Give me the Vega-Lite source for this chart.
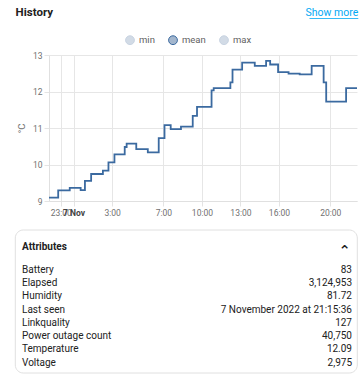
{
  "$schema": "https://vega.github.io/schema/vega-lite/v6.json",
  "padding": {"left": 14, "top": 0, "right": 0, "bottom": 0},
  "background": "white",
  "spacing": 12,
  "resolve": {"legend": {"color": "independent"}},
  "config": {"font": "Roboto", "view": {"stroke": null}},
  "datasets": {
    "temp": [
      {"time": "2022-11-06T22:05", "value": 9.09, "series": "mean"},
      {"time": "2022-11-06T22:48", "value": 9.29, "series": "mean"},
      {"time": "2022-11-06T23:42", "value": 9.36, "series": "mean"},
      {"time": "2022-11-07T00:33", "value": 9.30, "series": "mean"},
      {"time": "2022-11-07T00:53", "value": 9.55, "series": "mean"},
      {"time": "2022-11-07T01:22", "value": 9.74, "series": "mean"},
      {"time": "2022-11-07T02:17", "value": 9.83, "series": "mean"},
      {"time": "2022-11-07T02:43", "value": 10.06, "series": "mean"},
      {"time": "2022-11-07T03:11", "value": 10.28, "series": "mean"},
      {"time": "2022-11-07T03:59", "value": 10.48, "series": "mean"},
      {"time": "2022-11-07T04:08", "value": 10.57, "series": "mean"},
      {"time": "2022-11-07T04:53", "value": 10.42, "series": "mean"},
      {"time": "2022-11-07T05:47", "value": 10.33, "series": "mean"},
      {"time": "2022-11-07T06:38", "value": 10.72, "series": "mean"},
      {"time": "2022-11-07T07:05", "value": 11.08, "series": "mean"},
      {"time": "2022-11-07T07:34", "value": 10.97, "series": "mean"},
      {"time": "2022-11-07T08:22", "value": 11.04, "series": "mean"},
      {"time": "2022-11-07T09:17", "value": 11.33, "series": "mean"},
      {"time": "2022-11-07T09:37", "value": 11.58, "series": "mean"},
      {"time": "2022-11-07T10:45", "value": 12.03, "series": "mean"},
      {"time": "2022-11-07T10:55", "value": 12.09, "series": "mean"},
      {"time": "2022-11-07T12:13", "value": 12.25, "series": "mean"},
      {"time": "2022-11-07T12:23", "value": 12.60, "series": "mean"},
      {"time": "2022-11-07T13:08", "value": 12.79, "series": "mean"},
      {"time": "2022-11-07T14:07", "value": 12.70, "series": "mean"},
      {"time": "2022-11-07T15:00", "value": 12.84, "series": "mean"},
      {"time": "2022-11-07T15:19", "value": 12.74, "series": "mean"},
      {"time": "2022-11-07T15:56", "value": 12.53, "series": "mean"},
      {"time": "2022-11-07T16:45", "value": 12.49, "series": "mean"},
      {"time": "2022-11-07T17:37", "value": 12.47, "series": "mean"},
      {"time": "2022-11-07T18:33", "value": 12.70, "series": "mean"},
      {"time": "2022-11-07T19:29", "value": 12.25, "series": "mean"},
      {"time": "2022-11-07T19:41", "value": 11.72, "series": "mean"},
      {"time": "2022-11-07T21:14", "value": 12.09, "series": "mean"},
      {"time": "2022-11-07T22:05", "value": 12.09, "series": "mean"}
    ],
    "attrs": [
      {"name": "Battery", "value": "83"},
      {"name": "Elapsed", "value": "3,124,953"},
      {"name": "Humidity", "value": "81.72"},
      {"name": "Last seen", "value": "7 November 2022 at 21:15:36"},
      {"name": "Linkquality", "value": "127"},
      {"name": "Power outage count", "value": "40,750"},
      {"name": "Temperature", "value": "12.09"},
      {"name": "Voltage", "value": "2,975"}
    ]
  },
  "vconcat": [
    {
      "width": 308,
      "height": 21.5,
      "layer": [
        {
          "data": {"values": [{"t": "History"}]},
          "mark": {"type": "text", "align": "left", "baseline": "middle", "fontSize": 11.5, "fontWeight": "bold", "color": "#212121"},
          "encoding": {"text": {"field": "t"}, "x": {"value": -33.4}, "y": {"value": 12.5}}
        },
        {
          "data": {"values": [{"t": "Show more"}]},
          "mark": {"type": "text", "align": "right", "baseline": "middle", "fontSize": 10.5, "color": "#03a9f4"},
          "encoding": {"text": {"field": "t"}, "x": {"value": 309.3}, "y": {"value": 12.5}}
        },
        {
          "data": {"values": [{"t": "underline"}]},
          "mark": {"type": "rule", "stroke": "#03a9f4", "strokeWidth": 0.8},
          "encoding": {"x": {"value": 260.5}, "x2": {"value": 309.3}, "y": {"value": 18.5}}
        }
      ]
    },
    {
      "width": 308,
      "height": 146,
      "data": {"name": "temp"},
      "mark": {"type": "line", "interpolate": "step-after", "strokeWidth": 1.8},
      "encoding": {
        "x": {
          "field": "time",
          "type": "temporal",
          "scale": {
            "domain": [
              {"year": 2022, "month": 11, "date": 6, "hours": 22, "minutes": 5},
              {"year": 2022, "month": 11, "date": 7, "hours": 22, "minutes": 5}
            ],
            "nice": false
          },
          "axis": {
            "title": null,
            "values": [
              {"year": 2022, "month": 11, "date": 6, "hours": 23},
              {"year": 2022, "month": 11, "date": 7, "hours": 0},
              {"year": 2022, "month": 11, "date": 7, "hours": 3},
              {"year": 2022, "month": 11, "date": 7, "hours": 7},
              {"year": 2022, "month": 11, "date": 7, "hours": 10},
              {"year": 2022, "month": 11, "date": 7, "hours": 13},
              {"year": 2022, "month": 11, "date": 7, "hours": 16},
              {"year": 2022, "month": 11, "date": 7, "hours": 20}
            ],
            "labelExpr": "hours(datum.value) === 0 ? '7 Nov' : hours(datum.value) + ':00'",
            "labelOverlap": false,
            "labelBound": false,
            "labelFlush": false,
            "labelFontSize": 8.5,
            "labelColor": {"condition": {"test": "hours(datum.value) === 0", "value": "#444444"}, "value": "#707070"},
            "labelFontWeight": {"condition": {"test": "hours(datum.value) === 0", "value": "bold"}, "value": "normal"},
            "labelPadding": 2,
            "tickSize": 5,
            "tickColor": "#e4e4e4",
            "gridColor": "#e6e6e6",
            "domainColor": "#e0e0e0"
          }
        },
        "y": {
          "field": "value",
          "type": "quantitative",
          "scale": {"domain": [9, 13], "nice": false, "zero": false},
          "axis": {
            "title": "°C",
            "values": [9, 10, 11, 12, 13],
            "labelFontSize": 8.5,
            "labelColor": "#707070",
            "labelPadding": 2,
            "tickSize": 5,
            "tickColor": "#e4e4e4",
            "gridColor": "#e6e6e6",
            "domainColor": "#e0e0e0",
            "titleFontSize": 9.5,
            "titleFontWeight": "normal",
            "titleColor": "#707070",
            "titleX": -28,
            "titleY": 73,
            "titleAngle": -90,
            "titleAlign": "center",
            "titleBaseline": "middle"
          }
        },
        "color": {
          "field": "series",
          "type": "nominal",
          "scale": {"domain": ["min", "mean", "max"], "range": ["#c9d4e2", "#3b6aa0", "#c9d4e2"]},
          "legend": {
            "title": null,
            "orient": "none",
            "legendX": 76,
            "legendY": -20.1,
            "direction": "horizontal",
            "symbolType": "circle",
            "symbolSize": 78,
            "symbolStrokeWidth": 1,
            "labelFontSize": 9.5,
            "labelColor": "#616161",
            "labelOffset": 4,
            "columnPadding": 11,
            "padding": 0,
            "encode": {
              "symbols": {
                "update": {
                  "fill": [{"test": "datum.value === 'mean'", "value": "#a3b6cd"}, {"value": "#d2dbe6"}],
                  "stroke": [{"test": "datum.value === 'mean'", "value": "#6f8db1"}, {"value": "#a9b9cc"}],
                  "strokeWidth": {"value": 1},
                  "opacity": {"value": 1}
                }
              }
            }
          }
        }
      }
    },
    {
      "width": 308,
      "height": 143,
      "layer": [
        {
          "data": {"values": [{"t": "box"}]},
          "mark": {"type": "rect", "fill": "white", "stroke": "#e0e0e0", "strokeWidth": 1, "cornerRadius": 8},
          "encoding": {"x": {"value": -33.7}, "x2": {"value": 308.3}, "y": {"value": 0}, "y2": {"value": 143}}
        },
        {
          "data": {"values": [{"t": "Attributes"}]},
          "mark": {"type": "text", "align": "left", "baseline": "middle", "fontSize": 10, "fontWeight": "bold", "color": "#212121"},
          "encoding": {"text": {"field": "t"}, "x": {"value": -27}, "y": {"value": 17}}
        },
        {
          "data": {"values": [{"t": "⌃"}]},
          "mark": {"type": "text", "align": "center", "baseline": "middle", "font": "DejaVu Sans", "fontSize": 14, "fontWeight": "bold", "color": "#212121"},
          "encoding": {"text": {"field": "t"}, "x": {"value": 295.6}, "y": {"value": 21}}
        },
        {
          "data": {"name": "attrs"},
          "mark": {"type": "text", "align": "left", "baseline": "middle", "fontSize": 10, "color": "#212121"},
          "encoding": {
            "text": {"field": "name"},
            "x": {"value": -27},
            "y": {"field": "name", "type": "nominal", "sort": null, "scale": {"type": "point", "range": [40, 132.6], "padding": 0}, "axis": null}
          }
        },
        {
          "data": {"name": "attrs"},
          "mark": {"type": "text", "align": "right", "baseline": "middle", "fontSize": 10, "color": "#212121"},
          "encoding": {
            "text": {"field": "value"},
            "x": {"value": 303},
            "y": {"field": "name", "type": "nominal", "sort": null, "scale": {"type": "point", "range": [40, 132.6], "padding": 0}, "axis": null}
          }
        }
      ]
    }
  ]
}
